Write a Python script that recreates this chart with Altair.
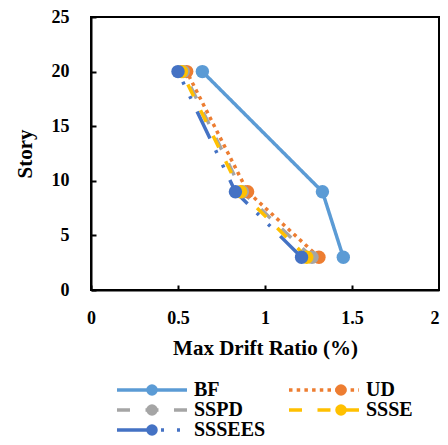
import json
import altair as alt
import pandas as pd

# ---- data ----
series = ["BF", "UD", "SSPD", "SSSE", "SSSEES"]
stories = [20, 9, 3]
bf = [0.64, 1.33, 1.45]
ud = [0.55, 0.90, 1.31]
sspd = [0.53, 0.87, 1.27]
ssse = [0.52, 0.86, 1.24]
sssees = [0.50, 0.83, 1.21]
x_ticks = [0, 0.5, 1, 1.5, 2]
y_ticks = [0, 5, 10, 15, 20, 25]

# ---- styles ----
colors = ["#5B9BD5", "#ED7D31", "#A5A5A5", "#FFC000", "#4472C4"]
dashes = [[1, 0], [3.5, 4.2], [13, 15.5], [13, 15.5], [30, 14, 3, 13, 3, 13]]

values = {"BF": bf, "UD": ud, "SSPD": sspd, "SSSE": ssse, "SSSEES": sssees}
rows = []
for i, s in enumerate(series):
    for st, v in zip(stories, values[s]):
        rows.append({"series": s, "idx": i, "story": st, "drift": v})
df = pd.DataFrame(rows)

# legend fills column by column (3 rows x 2 columns) -> order so rows read BF UD / SSPD SSSE / SSSEES
legend_order = ["BF", "SSPD", "SSSEES", "UD", "SSSE"]
lo_idx = [series.index(s) for s in legend_order]
lo_colors = [colors[i] for i in lo_idx]
lo_dashes = [dashes[i] for i in lo_idx]

FONT = "Liberation Serif"
LINE_SYMBOL = "M-1.43,0H8.57"

common = dict(
    title=None, orient="none", legendX=26, legendY=363, columns=2,
    columnPadding=15, rowPadding=0, labelOffset=57, labelFont=FONT,
    labelFontWeight="bold", labelFontSize=20, labelColor="black", padding=0,
    symbolOpacity=1,
)
line_legend = alt.Legend(symbolType=LINE_SYMBOL, symbolSize=196,
                         symbolStrokeWidth=3.5, zindex=1, **common)
dot_legend = alt.Legend(symbolType="circle", symbolSize=133, symbolStrokeWidth=0,
                        symbolOffset=25, labelOpacity=0, zindex=2,
                        labelExpr=json.dumps(series) + "[datum.value]", **common)

xs = alt.X("drift:Q", scale=alt.Scale(domain=[0, 2], nice=False),
           axis=alt.Axis(values=x_ticks, format="~g", title="Max Drift Ratio (%)",
                         labelPadding=24, titlePadding=10, labelFlush=False,
                         labelAlign={"condition": {"test": "datum.value >= 2", "value": "right"},
                                     "value": "center"}))
ys = alt.Y("story:Q", scale=alt.Scale(domain=[0, 25], nice=False),
           axis=alt.Axis(values=y_ticks, format="~g", title="Story",
                         labelPadding=27, titlePadding=16, labelFlush=False))

lines = alt.Chart(df).mark_line(strokeWidth=3.5).encode(
    x=xs, y=ys,
    stroke=alt.Stroke("series:N", scale=alt.Scale(domain=legend_order, range=lo_colors),
                      legend=line_legend),
    strokeDash=alt.StrokeDash("series:N", scale=alt.Scale(domain=legend_order, range=lo_dashes),
                              legend=line_legend),
    order=alt.Order("story:Q"),
)

points = alt.Chart(df).mark_point(filled=True, size=180, opacity=1).encode(
    x=xs, y=ys,
    fill=alt.Fill("idx:N", scale=alt.Scale(domain=lo_idx, range=lo_colors), legend=dot_legend),
    order=alt.Order("idx:Q"),
)

chart = alt.layer(lines, points).properties(
    width=348, height=273,
    autosize=alt.AutoSizeParams(type="none"),
    padding={"left": 83, "top": 9, "right": 1, "bottom": 147},
).configure_view(
    stroke="black", strokeWidth=2
).configure_axis(
    grid=False, domainColor="black", domainWidth=2, tickColor="black", tickWidth=2,
    tickSize={"expr": "-5"}, labelFont=FONT, labelFontWeight="bold", labelFontSize=18,
    labelColor="black", titleFont=FONT, titleFontWeight="bold", titleFontSize=21,
    titleColor="black",
)

chart.save("out.html", embed_options={"renderer": "svg", "actions": False})
